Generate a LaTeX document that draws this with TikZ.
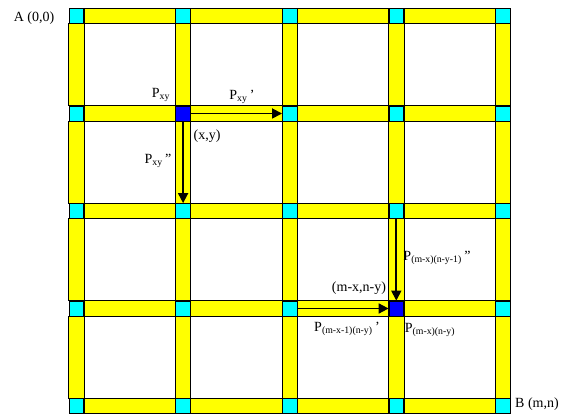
\documentclass[tikz,border=0pt]{standalone}
\usepackage{fontspec}
\setmainfont{Liberation Serif}
\usetikzlibrary{arrows.meta,positioning}
\definecolor{jcyan}{RGB}{0,255,255}
\definecolor{jblue}{RGB}{0,0,255}
\definecolor{lyellow}{RGB}{255,255,0}

\begin{document}
\begin{tikzpicture}[x=0.75pt,y=-0.75pt,
  jn/.style={draw,minimum width=10.9pt,minimum height=11.2pt,inner sep=0pt,line width=0.6pt},
  bar/.style={draw,fill=lyellow,line width=0.6pt},
  lbl/.style={font=\fontsize{10.5}{12}\selectfont,inner sep=1pt},
  flow/.style={-{Triangle[length=7.5pt,width=7.5pt]},line width=1.3pt}]
\useasboundingbox (0,0) rectangle (564,416);
% junctions of the grid
\foreach \i in {0,...,4}
  \foreach \j in {0,...,4}{
    \def\jfill{jcyan}
    \ifnum\i=\j \ifodd\i \def\jfill{jblue}\fi\fi
    \node[jn,fill=\jfill] (n\i\j) at (76.5+106.6*\i,16+97.5*\j) {};
  }
% links
\foreach \i [evaluate=\i as \k using int(\i+1)] in {0,...,3}
  \foreach \j in {0,...,4}{
    \draw[bar] (n\i\j.north east) rectangle (n\k\j.south west);
    \draw[bar] (n\j\i.south west) rectangle (n\j\k.north east);
  }
\draw[flow] (n11.east) -- (n21.west);
\draw[flow] (n11.south) -- (n12.north);
\draw[flow] (n23.east) -- (n33.west);
\draw[flow] (n32.south) -- (n33.north);
% labels
\node[lbl] (a) at (34,18) {A (0,0)};
\node[lbl] (b) at (537,404) {B (m,n)};
\node[lbl] (pxy) at (161,95) {P\textsubscript{xy}};
\node[lbl] (pxy1) at (242,97) {P\textsubscript{xy}\,'};
\node[lbl] (xy) at (207,136) {(x,y)};
\node[lbl] (pxy2) at (158,161) {P\textsubscript{xy}\,''};
\node[lbl] (pb2) at (437,258) {P\textsubscript{(m-x)(n-y-1)}\,''};
\node[lbl] (mxny) at (359,288) {(m-x,n-y)};
\node[lbl] (pb1) at (347,329) {P\textsubscript{(m-x-1)(n-y)}\,'};
\node[lbl] (pb) at (430,330) {P\textsubscript{(m-x)(n-y)}};
\end{tikzpicture}
\end{document}
